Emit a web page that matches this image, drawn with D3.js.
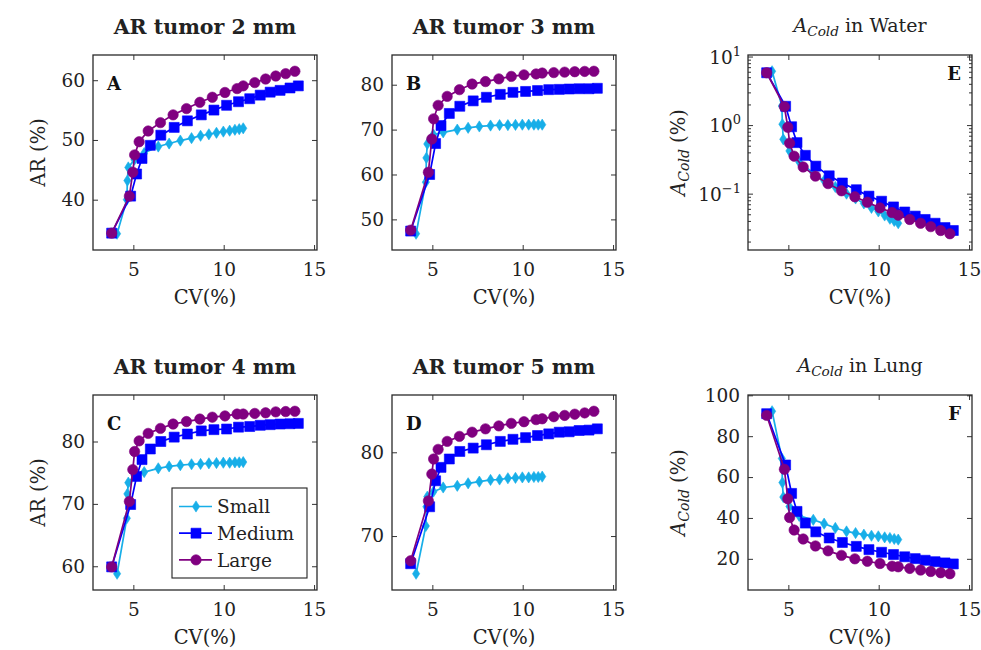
<!DOCTYPE html>
<html><head><meta charset="utf-8">
<script src="https://cdn.jsdelivr.net/npm/d3@7"></script>
<style>body{margin:0;background:#fff}</style>
</head><body>
<svg id="chart" width="981" height="650"></svg>
<script>
// ---------------- data ----------------
const seriesNames = ["Small", "Medium", "Large"];
const cvSmall  = [4.1, 4.64, 4.67, 4.72, 5.06, 5.6, 6.38, 6.98, 7.6, 8.22, 8.72, 9.18, 9.6, 9.98, 10.33, 10.62, 10.86, 11.08];
const cvMedium = [3.8, 4.85, 5.18, 5.48, 5.94, 6.52, 7.26, 7.99, 8.76, 9.46, 10.16, 10.82, 11.44, 12.02, 12.57, 13.12, 13.67, 14.13];
const cvLarge  = [3.8, 4.78, 4.97, 5.07, 5.32, 5.82, 6.5, 7.2, 7.94, 8.68, 9.37, 10.07, 10.74, 11.08, 11.72, 12.32, 12.88, 13.43, 13.94];

const ar2Small  = [34.3, 40.0, 43.2, 45.4, 46.7, 47.8, 48.9, 49.4, 49.9, 50.3, 50.7, 50.95, 51.2, 51.4, 51.55, 51.7, 51.8, 51.95];
const ar2Medium = [34.4, 40.6, 44.3, 46.9, 49.1, 50.8, 52.1, 53.2, 54.2, 55.0, 55.8, 56.4, 56.9, 57.5, 58.0, 58.3, 58.7, 59.05];
const ar2Large  = [34.4, 40.6, 44.6, 47.5, 49.7, 51.5, 52.9, 54.2, 55.25, 56.3, 57.15, 57.95, 58.6, 59.05, 59.6, 60.2, 60.7, 61.1, 61.5];

const ar3Small  = [46.8, 58.3, 63.7, 66.8, 68.9, 69.4, 70.0, 70.4, 70.7, 70.9, 71.0, 71.0, 71.05, 71.1, 71.1, 71.1, 71.1, 71.1];
const ar3Medium = [47.4, 60.0, 66.9, 70.9, 73.6, 75.2, 76.4, 77.2, 77.85, 78.3, 78.5, 78.7, 78.9, 78.96, 79.04, 79.1, 79.1, 79.2];
const ar3Large  = [47.6, 60.5, 67.9, 72.4, 75.4, 77.4, 78.9, 80.15, 80.7, 81.3, 81.85, 82.2, 82.4, 82.6, 82.7, 82.8, 82.9, 82.96, 83.0];

const ar4Small  = [58.8, 67.7, 71.6, 73.4, 74.6, 75.1, 75.7, 76.0, 76.2, 76.35, 76.4, 76.5, 76.55, 76.6, 76.6, 76.65, 76.65, 76.7];
const ar4Medium = [59.9, 69.9, 74.4, 77.1, 78.8, 80.0, 80.7, 81.2, 81.7, 81.9, 82.0, 82.3, 82.4, 82.6, 82.7, 82.8, 82.85, 82.9];
const ar4Large  = [59.9, 70.4, 75.5, 78.4, 80.1, 81.3, 82.1, 82.8, 83.2, 83.6, 83.9, 84.1, 84.4, 84.4, 84.5, 84.6, 84.75, 84.8, 84.85];

const ar5Small  = [65.5, 71.2, 73.5, 74.7, 75.3, 75.8, 76.0, 76.3, 76.5, 76.7, 76.75, 76.9, 76.95, 77.0, 77.0, 77.05, 77.05, 77.1];
const ar5Medium = [66.7, 73.5, 76.6, 78.2, 79.2, 80.1, 80.5, 80.9, 81.3, 81.55, 81.75, 82.0, 82.2, 82.4, 82.45, 82.6, 82.65, 82.8];
const ar5Large  = [67.05, 74.2, 77.4, 79.2, 80.35, 81.3, 81.9, 82.4, 82.8, 83.15, 83.45, 83.65, 83.9, 84.0, 84.25, 84.4, 84.55, 84.7, 84.9];

const waterSmall  = [6.1, 1.9, 1.03, 0.62, 0.42, 0.29, 0.2, 0.155, 0.125, 0.1, 0.085, 0.072, 0.062, 0.055, 0.048, 0.043, 0.04, 0.037];
const waterMedium = [5.8, 1.88, 0.946, 0.555, 0.362, 0.252, 0.182, 0.143, 0.114, 0.092, 0.0775, 0.064, 0.054, 0.047, 0.042, 0.037, 0.032, 0.029];
const waterLarge  = [5.8, 1.86, 0.93, 0.545, 0.352, 0.245, 0.18, 0.14, 0.11, 0.09, 0.075, 0.062, 0.053, 0.0485, 0.042, 0.037, 0.033, 0.029, 0.026];

const lungSmall  = [92.2, 69.1, 57.3, 50.2, 45.6, 41.0, 39.1, 37.2, 35.1, 33.4, 32.6, 31.8, 31.3, 31.0, 30.5, 30.2, 29.7, 29.4];
const lungMedium = [91.0, 65.9, 52.0, 43.2, 37.5, 33.2, 30.2, 28.0, 26.1, 24.5, 23.2, 22.1, 21.0, 20.1, 19.3, 18.6, 18.0, 17.5];
const lungLarge  = [90.2, 63.8, 49.4, 40.2, 34.1, 29.7, 26.3, 23.9, 21.7, 20.0, 18.8, 17.7, 16.4, 16.1, 15.3, 14.5, 13.8, 13.2, 12.7];

const xTicks = [5, 10, 15];
const yTicksA = [40, 50, 60];
const yTicksB = [50, 60, 70, 80];
const yTicksC = [60, 70, 80];
const yTicksD = [70, 80];
const yTicksE = [0.1, 1, 10];
const yTicksF = [20, 40, 60, 80, 100];

// ---------------- styles ----------------
const colors = ["#17aee8", "#0000ff", "#800080"];
const cvs = [cvSmall, cvMedium, cvLarge];
const FONT = "DejaVu Serif";
const FS = 18.5;      // regular text size
const W = 224, H = 195;

const panels = [
  {key: "A", left: 93,  top: 55,  title: "AR tumor 2 mm", ylab: "AR", ys: [ar2Small, ar2Medium, ar2Large], yt: yTicksA, corner: "tl"},
  {key: "B", left: 392, top: 55,  title: "AR tumor 3 mm", ylab: null, ys: [ar3Small, ar3Medium, ar3Large], yt: yTicksB, corner: "tl"},
  {key: "E", left: 748, top: 55,  title: "Water", ylab: "Acold", ys: [waterSmall, waterMedium, waterLarge], yt: yTicksE, corner: "tr", log: true},
  {key: "C", left: 93,  top: 395, title: "AR tumor 4 mm", ylab: "AR", ys: [ar4Small, ar4Medium, ar4Large], yt: yTicksC, corner: "tl", legend: true},
  {key: "D", left: 392, top: 395, title: "AR tumor 5 mm", ylab: null, ys: [ar5Small, ar5Medium, ar5Large], yt: yTicksD, corner: "tl"},
  {key: "F", left: 748, top: 395, title: "Lung", ylab: "Acold", ys: [lungSmall, lungMedium, lungLarge], yt: yTicksF, corner: "tr"}
];

const svg = d3.select("#chart");
svg.append("rect").attr("width", 981).attr("height", 650).attr("fill", "#fff");

function enlarge(ext) { const r = ext[1] - ext[0]; return [ext[0] - 0.1 * r, ext[1] + 0.1 * r]; }

const xDomain = enlarge(d3.extent(cvs.flat()));

function markerPath(i) {
  if (i === 0) return "M0,-5.6L3.6,0L0,5.6L-3.6,0Z";
  if (i === 1) return "M-5,-5H5V5H-5Z";
  return d3.symbol().type(d3.symbolCircle).size(Math.PI * 5.2 * 5.2)();
}

function drawMarker(g, i, x, y) {
  g.append("path").attr("d", markerPath(i)).attr("transform", `translate(${x},${y})`)
    .attr("fill", colors[i]).attr("stroke", colors[i]).attr("stroke-width", 0.6);
}

function addAcold(t, size) {
  t.append("tspan").attr("font-style", "italic").text("A");
  t.append("tspan").attr("font-style", "italic").attr("font-size", size * 0.72).attr("dy", size * 0.22).text("Cold");
}

panels.forEach(p => {
  const g = svg.append("g");
  const x = d3.scaleLinear().domain(xDomain).range([p.left, p.left + W]);
  let y;
  if (p.log) {
    const ext = d3.extent(p.ys.flat()).map(Math.log10);
    const d = enlarge(ext);
    y = d3.scaleLog().domain([Math.pow(10, d[0]), Math.pow(10, d[1])]).range([p.top + H, p.top]);
  } else {
    y = d3.scaleLinear().domain(enlarge(d3.extent(p.ys.flat()))).range([p.top + H, p.top]);
  }

  const tickStyle = sel => {
    sel.select(".domain").remove();
    sel.selectAll(".tick line").attr("stroke", "#333").attr("stroke-width", 1);
    sel.selectAll(".tick text").attr("font-family", FONT).attr("font-size", FS).attr("fill", "#222");
  };
  g.append("g").attr("transform", `translate(0,${p.top + H})`)
    .call(d3.axisBottom(x).tickValues(xTicks).tickSizeInner(-5).tickSizeOuter(0).tickPadding(8).tickFormat(d3.format("d")))
    .call(tickStyle).selectAll(".tick text").attr("dy", "0.95em");
  g.append("g").attr("transform", `translate(0,${p.top})`)
    .call(d3.axisTop(x).tickValues(xTicks).tickSizeInner(-5).tickSizeOuter(0).tickFormat(""))
    .call(tickStyle);

  if (p.log) {
    const minor = [];
    const [lo, hi] = y.domain();
    for (let e = Math.floor(Math.log10(lo)); e <= Math.ceil(Math.log10(hi)); e++) {
      for (let m = 2; m <= 9; m++) { const v = m * Math.pow(10, e); if (v >= lo && v <= hi) minor.push(v); }
    }
    [["axisLeft", p.left], ["axisRight", p.left + W]].forEach(([fn, tx]) => {
      g.append("g").attr("transform", `translate(${tx},0)`)
        .call(d3[fn](y).tickValues(minor).tickSizeInner(-3).tickSizeOuter(0).tickFormat("")).call(tickStyle);
      const maj = g.append("g").attr("transform", `translate(${tx},0)`)
        .call(d3[fn](y).tickValues(p.yt).tickSizeInner(-5).tickSizeOuter(0).tickFormat("")).call(tickStyle);
      if (fn === "axisLeft") {
        maj.selectAll(".tick").each(function(v) {
          const t = d3.select(this).append("text").attr("x", -7).attr("y", 0).attr("dy", "0.36em")
            .attr("text-anchor", "end").attr("font-family", FONT).attr("font-size", FS).attr("fill", "#222");
          t.append("tspan").text("10");
          t.append("tspan").attr("font-size", 13).attr("dy", -8).text(String(Math.round(Math.log10(v))).replace("-", "\u2212"));
        });
      }
    });
  } else {
    g.append("g").attr("transform", `translate(${p.left},0)`)
      .call(d3.axisLeft(y).tickValues(p.yt).tickSizeInner(-5).tickSizeOuter(0).tickPadding(8).tickFormat(d3.format("d")))
      .call(tickStyle);
    g.append("g").attr("transform", `translate(${p.left + W},0)`)
      .call(d3.axisRight(y).tickValues(p.yt).tickSizeInner(-5).tickSizeOuter(0).tickFormat(""))
      .call(tickStyle);
  }

  const clip = "clip" + p.key;
  svg.append("clipPath").attr("id", clip).append("rect").attr("x", p.left - 8).attr("y", p.top - 8).attr("width", W + 16).attr("height", H + 16);
  const sg = g.append("g").attr("clip-path", `url(#${clip})`);
  p.ys.forEach((vals, i) => {
    const pts = vals.map((v, k) => [x(cvs[i][k]), y(v)]);
    sg.append("path").attr("d", d3.line()(pts)).attr("fill", "none").attr("stroke", colors[i]).attr("stroke-width", 1.7);
    pts.forEach(pt => drawMarker(sg, i, pt[0], pt[1]));
  });

  g.append("rect").attr("x", p.left).attr("y", p.top).attr("width", W).attr("height", H)
    .attr("fill", "none").attr("stroke", "#2a2a2a").attr("stroke-width", 1.3);

  const lt = g.append("text").attr("font-family", FONT).attr("font-weight", "bold").attr("font-size", 18).attr("fill", "#111")
    .text(p.key);
  if (p.corner === "tl") lt.attr("x", p.left + 14).attr("y", p.top + 35);
  else lt.attr("x", p.left + W - 11).attr("y", p.top + 25).attr("text-anchor", "end");

  if (p.ylab === "Acold") {
    const t = g.append("text").attr("x", p.left + W / 2).attr("y", p.top - 23).attr("text-anchor", "middle")
      .attr("font-family", FONT).attr("font-size", 19).attr("fill", "#222");
    addAcold(t, 19);
    t.append("tspan").attr("dy", -19 * 0.22).text(" in " + p.title);
  } else {
    g.append("text").attr("x", p.left + W / 2).attr("y", p.top - 21).attr("text-anchor", "middle")
      .attr("font-family", FONT).attr("font-weight", "bold").attr("font-size", 20.5).attr("fill", "#222")
      .text(p.title);
  }

  g.append("text").attr("x", p.left + W / 2).attr("y", p.top + H + 54).attr("text-anchor", "middle")
    .attr("font-family", FONT).attr("font-size", 19.5).attr("fill", "#222").text("CV(%)");

  if (p.ylab === "AR") {
    g.append("text").attr("transform", `translate(${p.left - 48},${p.top + H / 2}) rotate(-90)`).attr("text-anchor", "middle")
      .attr("font-family", FONT).attr("font-size", 19.5).attr("fill", "#222").text("AR (%)");
  } else if (p.ylab === "Acold") {
    const t = g.append("text").attr("transform", `translate(${p.left - 63},${p.top + H / 2}) rotate(-90)`).attr("text-anchor", "middle")
      .attr("font-family", FONT).attr("font-size", 19.5).attr("fill", "#222");
    addAcold(t, 19.5);
    t.append("tspan").attr("dy", -19.5 * 0.22).text(" (%)");
  }

  if (p.legend) {
    const lx = p.left + 79, ly = p.top + 93, lw = 135, lh = 90;
    const lg = g.append("g");
    lg.append("rect").attr("x", lx).attr("y", ly).attr("width", lw).attr("height", lh)
      .attr("fill", "#fff").attr("stroke", "#222").attr("stroke-width", 1.1);
    seriesNames.forEach((name, i) => {
      const cy = ly + 18.5 + i * 26.7;
      lg.append("line").attr("x1", lx + 7).attr("x2", lx + 40).attr("y1", cy).attr("y2", cy)
        .attr("stroke", colors[i]).attr("stroke-width", 1.7);
      drawMarker(lg, i, lx + 24, cy);
      lg.append("text").attr("x", lx + 45).attr("y", cy).attr("dy", "0.36em")
        .attr("font-family", FONT).attr("font-size", FS).attr("fill", "#222").text(name);
    });
  }
});
</script>
</body></html>
